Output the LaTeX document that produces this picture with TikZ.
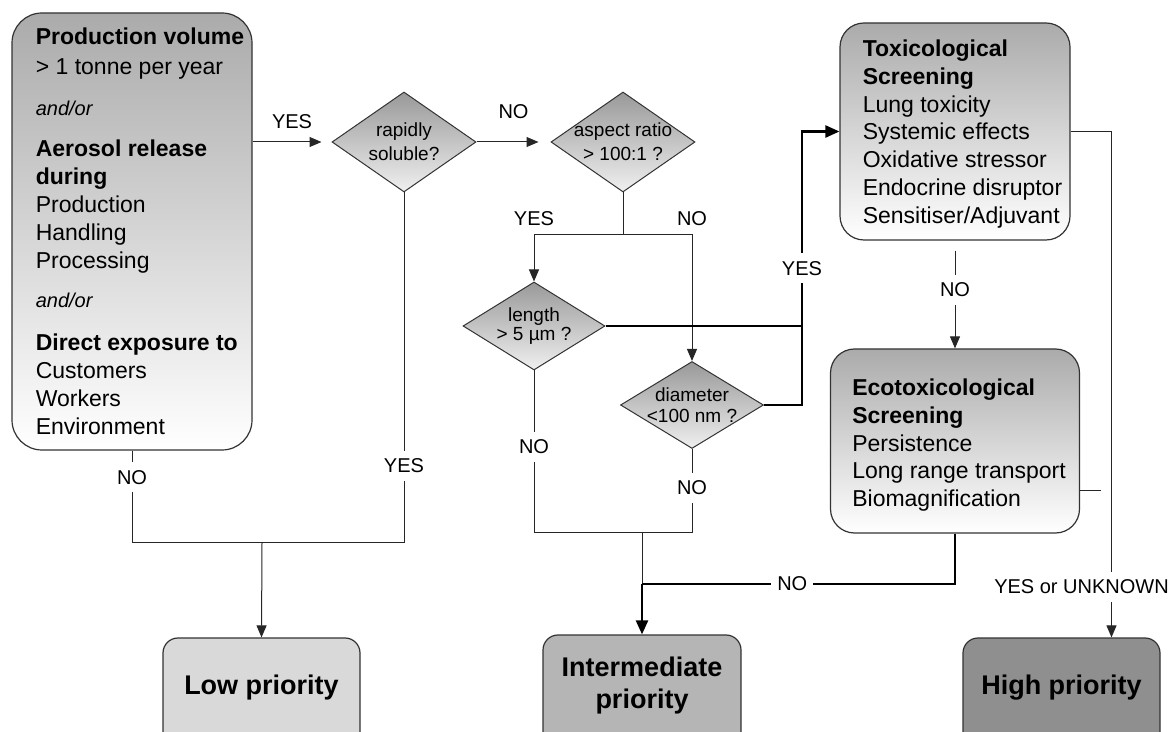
\documentclass[tikz,border=0pt]{standalone}
\usepackage{fontspec}
\setmainfont{Liberation Sans}
\usetikzlibrary{shapes.geometric, arrows.meta, positioning}
\tikzstyle{screen} = [rectangle, rounded corners=12pt, draw=black!80, line width=0.6pt, top color=black!33, bottom color=white]
\tikzstyle{decision} = [diamond, inner sep=0pt, draw=black!80, line width=0.5pt, top color=black!40, bottom color=black!6]
\tikzstyle{outcome} = [rectangle, rounded corners=7.5pt, minimum width=98.5pt, minimum height=65pt, draw=black!80, line width=0.6pt]
\tikzstyle{listing} = [anchor=north west, inner sep=0pt, align=left, font=\fontsize{11.5}{13.9}\selectfont]
\tikzstyle{query} = [inner sep=0pt, align=center, font=\fontsize{9.5}{12}\selectfont]
\tikzstyle{verdict} = [inner sep=0pt, align=center, font=\fontsize{13.5}{16}\selectfont\bfseries]
\tikzstyle{answer} = [fill=white, inner xsep=3pt, inner ysep=4pt, font=\fontsize{10}{12}\selectfont]
\tikzstyle{link} = [draw=black!85, line width=0.5pt]
\tikzstyle{arrow} = [link, -{Triangle[length=6pt,width=5pt]}]
\tikzstyle{heavylink} = [draw=black, line width=1.2pt]
\tikzstyle{heavyarrow} = [heavylink, -{Triangle[length=7pt,width=6pt]}]
\newcommand{\andor}{{\fontsize{10}{13.9}\selectfont\itshape and/or}}

\begin{document}
\begin{tikzpicture}[x=0.5pt, y=-0.5pt] % one unit = one pixel of the original
\useasboundingbox (0,0) rectangle (1173,732);
\clip (0,0) rectangle (1173,732);

% Nodes
\node (volume) [screen, rounded corners=15pt, minimum width=120pt, minimum height=218.5pt] at (132,231.5) {};
\node (volumetext) [listing] at ([xshift=12pt, yshift=-7.5pt]volume.north west) {\textbf{Production volume}\\[1pt]
> 1 tonne per year\\[6.5pt]
\andor\\[7pt]
\textbf{Aerosol release}\\
\textbf{during}\\
Production\\
Handling\\
Processing\\[6pt]
\andor\\[7.5pt]
\textbf{Direct exposure to}\\
Customers\\
Workers\\
Environment};

\node (soluble) [decision, minimum width=72pt, minimum height=50pt] at (404,142) {};
\node (solubletext) [query] at (soluble.center) {rapidly\\soluble?};
\node (aspect) [decision, minimum width=72pt, minimum height=50pt] at (623,142) {};
\node (aspecttext) [query] at (aspect.center) {aspect ratio\\> 100:1 ?};
\node (length) [decision, minimum width=71pt, minimum height=44pt] at (534,326) {};
\node (lengthtext) [query, font=\fontsize{9.5}{9.5}\selectfont] at (length.center) {length\\> 5 µm ?};
\node (diameter) [decision, minimum width=71.5pt, minimum height=43.5pt] at (692,405) {};
\node (diametertext) [query, font=\fontsize{9.5}{10.5}\selectfont] at (diameter.center) {diameter\\<100 nm ?};

\node (tox) [screen, minimum width=115pt, minimum height=108.5pt] at (955,131.5) {};
\node (toxtext) [listing] at ([xshift=11.5pt, yshift=-8.5pt]tox.north west) {\textbf{Toxicological}\\
\textbf{Screening}\\
Lung toxicity\\
Systemic effects\\
Oxidative stressor\\
Endocrine disruptor\\
Sensitiser/Adjuvant};
\node (ecotox) [screen, minimum width=124.5pt, minimum height=92pt] at (955,441) {};
\node (ecotoxtext) [listing] at ([xshift=11pt, yshift=-15pt]ecotox.north west) {\textbf{Ecotoxicological}\\
\textbf{Screening}\\
Persistence\\
Long range transport\\
Biomagnification};

\node (low) [outcome, fill=black!15] at (261.5,703) {};
\node (lowtext) [verdict] at ([yshift=7.5pt]low.center) {Low priority};
\node (inter) [outcome, fill=black!29, minimum width=99pt] at (642,700) {};
\node (intertext) [verdict] at ([yshift=7pt]inter.center) {Intermediate\\priority};
\node (high) [outcome, fill=black!44] at (1061.5,703) {};
\node (hightext) [verdict] at ([yshift=7.5pt]high.center) {High priority};

% Junctions
\coordinate (volumeout) at (132,543);
\coordinate (solubleout) at (404,543);
\coordinate (lowin) at (262,543);
\coordinate (aspectsplit) at (623,235);
\coordinate (lengthout) at (534,533);
\coordinate (diameterout) at (692,533);
\coordinate (interjoin) at (642,533);
\coordinate (ecojoin) at (642,584);
\coordinate (fibre) at (802,405);
\coordinate (ecostub) at (1101,491);

% Arrows
\draw [arrow, shorten >=5pt] (volume.east |- soluble.west) -- node[answer, above=2.5pt] {YES} (soluble.west);
\draw [arrow, shorten >=6pt] (soluble.east) -- node[answer, above=7.5pt] {NO} (aspect.west);
\draw [link] (soluble.south) -- node[answer, pos=.78] {YES} (solubleout);
\draw [link] (volume.south) -- node[answer, pos=.29] {NO} (volumeout);
\draw [link] (volumeout) -- (solubleout);
\draw [arrow] (lowin) -- (low.north);

\draw [link] (aspect.south) -- (aspectsplit);
\draw [arrow] (aspectsplit) -| node[answer, pos=.5, above=0.5pt] {YES} (length.north);
\draw [arrow] (aspectsplit) -| node[answer, pos=.5, above=0.5pt] {NO} (diameter.north);
\draw [heavylink] (length.east) -- (length.east -| fibre);
\draw [heavyarrow] (diameter.east) -- (fibre) |- node[answer, pos=.25] {YES} (tox.west);
\draw [link] (length.south) -- node[answer, pos=.47] {NO} (lengthout);
\draw [link] (diameter.south) -- node[answer, pos=.46] {NO} (diameterout);
\draw [link] (lengthout) -- (diameterout);
\draw [link] (interjoin) -- (ecojoin);
\draw [heavyarrow] (ecojoin) -- (inter.north);

\draw [arrow] ([yshift=-5pt]tox.south) -- node[answer, pos=.4] {NO} (ecotox.north);
\draw [heavylink] (ecotox.south) |- node[answer, pos=.76] {NO} (ecojoin);
\draw [arrow] (tox.east) -| node[answer, pos=.95, xshift=-15pt] {YES or UNKNOWN} ([xshift=25pt]high.north);
\draw [link] (ecotox.east |- ecostub) -- (ecostub);

\end{tikzpicture}
\end{document}
